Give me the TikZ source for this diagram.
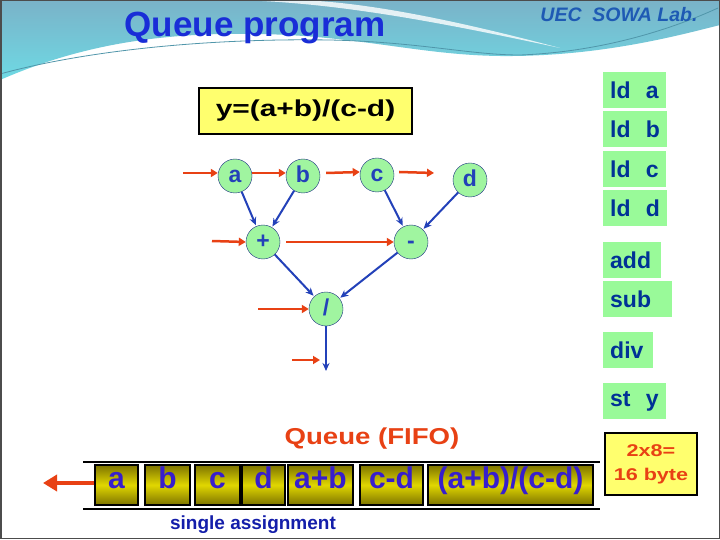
\documentclass[tikz,border=0pt]{standalone}
\usepackage{fontspec}
\setmainfont{Liberation Sans}
\usepackage{graphicx}
\usetikzlibrary{arrows.meta, positioning, calc, shapes.geometric}

\definecolor{hdrdark}{RGB}{122,178,200}
\definecolor{hdrcyan}{RGB}{110,218,228}
\definecolor{hdrline}{RGB}{80,150,170}
\definecolor{titleblue}{RGB}{25,45,215}
\definecolor{labblue}{RGB}{30,90,180}
\definecolor{nodegreen}{RGB}{160,245,160}
\definecolor{instrgreen}{RGB}{153,250,153}
\definecolor{instrblue}{RGB}{0,50,150}
\definecolor{edgeblue}{RGB}{35,65,185}
\definecolor{tokenred}{RGB}{232,65,20}
\definecolor{boxyellow}{RGB}{255,255,110}
\definecolor{qlight}{RGB}{225,215,0}
\definecolor{qdark}{RGB}{125,115,0}
\definecolor{qtext}{RGB}{55,30,205}
\definecolor{notedark}{RGB}{20,30,170}

\begin{document}
\begin{tikzpicture}[
    x=1pt, y=-1pt,
    opnode/.style={circle, draw=edgeblue!70!black, fill=nodegreen, minimum size=34pt, inner sep=0pt, text height=16pt, text depth=3pt, text=edgeblue, font=\bfseries\fontsize{23}{23}\selectfont},
    instr/.style={fill=instrgreen, anchor=west, minimum height=36pt, inner xsep=7pt, inner ysep=0pt, align=left, text=instrblue, font=\bfseries\fontsize{23}{23}\selectfont},
    cell/.style={draw=black, line width=1.5pt, top color=qdark, bottom color=qdark, middle color=qlight, minimum height=40pt, inner sep=0pt, text height=16pt, text depth=9pt, text=qtext, font=\bfseries\fontsize{30}{30}\selectfont},
    yellowbox/.style={draw=black, line width=2pt, fill=boxyellow},
    flow/.style={edgeblue, line width=2pt, -{Stealth[length=8pt, width=7pt]}, shorten >=1pt},
    token/.style={tokenred, line width=2.5pt, -{Triangle[length=7pt, width=8pt]}}
]
\useasboundingbox (0,0) rectangle (720,540);

% Slide background
\fill[white] (0,0) rectangle (720,540);
\shade[top color=hdrdark, bottom color=hdrcyan] (0,0) -- (720,0) -- (720,25)
    .. controls (680,35) and (600,57) .. (500,56)
    .. controls (420,55) and (360,36) .. (260,34)
    .. controls (160,32) and (80,45) .. (0,80) -- cycle;
\fill[white, opacity=0.8] (235,0) .. controls (330,2) and (430,20) .. (560,48)
    .. controls (440,16) and (350,0) .. (290,0) -- cycle;
\draw[hdrline, line width=0.8pt] (0,74) .. controls (80,52) and (200,38) .. (330,40)
    .. controls (420,42) and (470,55) .. (520,55) .. controls (600,52) and (670,30) .. (718,8);
\draw[gray!60!black, line width=1.5pt] (0.75,0.75) rectangle (719.25,538.5);

% Titles
\node[text=titleblue, font=\bfseries\fontsize{35}{35}\selectfont] (title) at (255,28) {Queue program};
\node[text=labblue, font=\bfseries\itshape\fontsize{19.5}{19.5}\selectfont] (lab) at (619,15) {UEC~~SOWA Lab.};

% Expression
\node[yellowbox, minimum width=213pt, minimum height=46pt, font=\bfseries\fontsize{23}{23}\selectfont] (formula) at (305.5,111) {\scalebox{1.3}[1]{y=(a+b)/(c-d)}};

% Operation nodes
\node[opnode] (a) at (235,176) {a};
\node[opnode] (b) at (303,176) {b};
\node[opnode] (c) at (377,175) {c};
\node[opnode] (d) at (470,180) {d};
\node[opnode] (plus) at (263,242) {+};
\node[opnode] (minus) at (411,242) {-};
\node[opnode] (slash) at (326,309) {/};
\coordinate (out) at (326,372);

% Data flow
\draw[flow] (a) -- (plus);
\draw[flow] (b) -- (plus);
\draw[flow] (c) -- (minus);
\draw[flow] (d) -- (minus);
\draw[flow] (plus) -- (slash);
\draw[flow] (minus) -- (slash);
\draw[flow] (slash) -- (out);

% Execution order
\coordinate (inA) at (183,173);
\coordinate (outC) at (434,173);
\coordinate (inPlus) at (212,241);
\coordinate (inSlash) at (258,309);
\coordinate (tokStart) at (292,360);
\coordinate (tokEnd) at (320,360);
\draw[token] (inA) -- ([yshift=3pt]a.west);
\draw[token] ([yshift=3pt]a.east) -- ([yshift=3pt]b.west);
\draw[token] ([shift={(6pt,3pt)}]b.east) -- ([yshift=3pt]c.west);
\draw[token] ([shift={(5pt,3pt)}]c.east) -- (outC);
\draw[token] (inPlus) -- (plus.west);
\draw[token] ([xshift=6pt]plus.east) -- (minus.west);
\draw[token] (inSlash) -- (slash.west);
\draw[token] (tokStart) -- (tokEnd);

% Instructions
\node[instr, text width=49pt] (insA) at (603,90) {ld~~a};
\node[instr, text width=50pt] (insB) at (603,129) {ld~~b};
\node[instr, text width=49pt] (insC) at (603,169) {ld~~c};
\node[instr, text width=50pt] (insD) at (603,208) {ld~~d};
\node[instr, text width=44pt] (insAdd) at (603,260) {add};
\node[instr, text width=55pt] (insSub) at (603,299) {sub};
\node[instr, text width=36pt] (insDiv) at (603,350) {div};
\node[instr, text width=49pt] (insSt) at (603,401) {st~~y};

% Queue
\node[text=tokenred, font=\bfseries\fontsize{23}{23}\selectfont] (fifo) at (372,439) {\scalebox{1.2}[1]{Queue (FIFO)}};
\draw[line width=2.5pt] (83,462) -- (600,462);
\draw[line width=2.5pt] (83,509) -- (600,509);
\node[cell, minimum width=43pt] (qa) at (116.5,485) {a};
\node[cell, minimum width=45pt] (qb) at (167.5,485) {b};
\node[cell, minimum width=45pt] (qc) at (217.5,485) {c};
\node[cell, minimum width=43pt] (qd) at (263.5,485) {d};
\node[cell, minimum width=65pt] (qab) at (320.5,485) {a+b};
\node[cell, minimum width=63pt] (qcd) at (391.5,485) {c-d};
\node[cell, minimum width=165pt] (qy) at (510.5,485) {(a+b)/(c-d)};
\coordinate (qout) at (43,483);
\draw[tokenred, line width=4pt, -{Triangle[length=14pt, width=16pt]}] ([yshift=2pt]qa.west) -- (qout);
\node[text=notedark, font=\bfseries\fontsize{19}{19}\selectfont] (note) at (253,525) {single assignment};

% Queue size
\node[yellowbox, minimum width=92pt, minimum height=62pt, align=center, text=tokenred, font=\bfseries\fontsize{17}{24}\selectfont] (size) at (651,464) {\scalebox{1.27}[1]{2x8=}\\\scalebox{1.27}[1]{16 byte}};

\end{tikzpicture}
\end{document}
